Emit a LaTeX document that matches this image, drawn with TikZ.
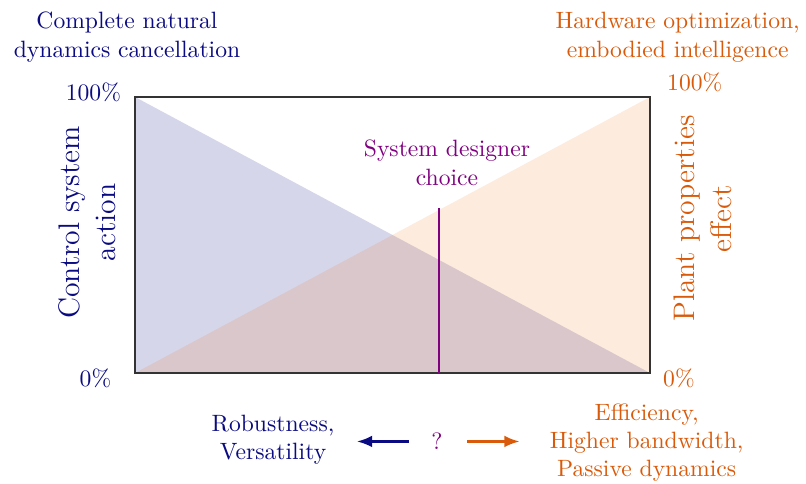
\documentclass[tikz,border=0pt]{standalone}
\usepackage{tikz}
\usetikzlibrary{calc,positioning}
\usetikzlibrary{arrows.meta}

\definecolor{ctrlblue}{RGB}{10,10,130}
\definecolor{plantorange}{RGB}{217,90,10}
\definecolor{plantfill}{RGB}{242,122,28}
\definecolor{choicepurple}{RGB}{128,0,128}

\begin{document}
\begin{tikzpicture}[
        ctrltext/.style={text=ctrlblue, align=center},
        planttext/.style={text=plantorange, align=center},
        axistext/.style={rotate=90, align=center, font=\fontsize{12.6}{15.6}\selectfont},
        tradeoff/.style={line width=1pt, -{Latex[length=6.5pt,width=5pt]}}
    ]
        
        \useasboundingbox (-2.010,-1.653) rectangle (9.990,5.553);
        
        %兩個三角形區域
        \fill[ctrlblue, opacity=0.17] (0,4.109) -- (0,0) -- (7.667,0) -- cycle;
        \fill[plantfill, opacity=0.15] (0,0) -- (7.667,0) -- (7.667,4.109) -- cycle;
        \draw[black!80, line width=0.5pt] (0,0) rectangle (7.667,4.109);
        
        %左右刻度
        \node[ctrltext, anchor=east] (ctrlfull) at (-0.085,4.185) {100\%};
        \node[ctrltext, anchor=east] (ctrlnone) at (-0.23,-0.075) {0\%};
        \node[planttext, anchor=west] (plantfull) at (7.80,4.33) {100\%};
        \node[planttext, anchor=west] (plantnone) at (7.74,-0.075) {0\%};
        
        \node[ctrltext] (ctrlgoal) at (-0.119,5.00) {Complete natural\\dynamics cancellation};
        \node[planttext] (plantgoal) at (8.08,5.00) {Hardware optimization,\\embodied intelligence};
        
        \node[ctrltext, axistext] (ctrlaxis) at (-0.712,2.24) {Control system\\action};
        \node[planttext, axistext] (plantaxis) at (8.46,2.30) {Plant properties\\effect};
        
        %設計者選擇
        \coordinate (seltop) at (4.53,2.452);
        \coordinate (selbase) at (4.53,0);
        \draw[choicepurple, thick] (selbase) -- (seltop);
        \node[text=choicepurple, align=center] (choice) at (4.645,3.13) {System designer\\choice};
        
        %下方取捨
        \node[ctrltext] (robust) at (2.055,-0.997) {Robustness,\\Versatility};
        \node[text=choicepurple] (q) at (4.496,-1.02) {?};
        \node[planttext] (effic) at (7.618,-1.035) {Efficiency,\\Higher bandwidth,\\Passive dynamics};
        \draw[tradeoff, ctrlblue, shorten <=6.1pt, shorten >=6pt] (q.west) -- (q.west -| robust.east);
        \draw[tradeoff, plantorange, shorten <=7pt, shorten >=9.3pt] (q.east) -- (q.east -| effic.west);
        \end{tikzpicture}
\end{document}
